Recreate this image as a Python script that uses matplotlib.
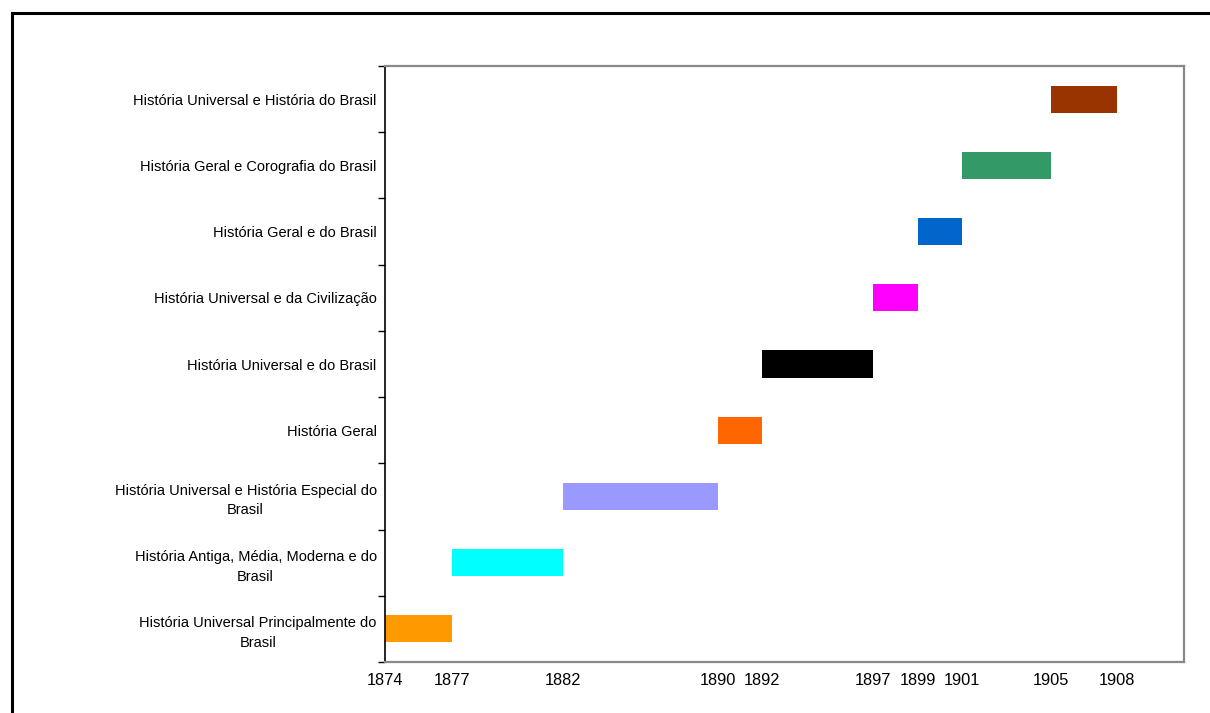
import matplotlib.pyplot as plt
from matplotlib.lines import Line2D

plt.rcParams['font.family'] = ['Liberation Sans', 'DejaVu Sans']

# Data: disciplines (bottom to top), start / end of each period
disciplinas = [
    "História Universal Principalmente do\nBrasil",
    "História Antiga, Média, Moderna e do\nBrasil",
    "História Universal e História Especial do\nBrasil",
    "História Geral",
    "História Universal e do Brasil",
    "História Universal e da Civilização",
    "História Geral e do Brasil",
    "História Geral e Corografia do Brasil",
    "História Universal e História do Brasil",
]
inicio = [1874, 1877, 1882, 1889, 1891, 1896, 1898, 1900, 1904]
fim = [1877, 1882, 1889, 1891, 1896, 1898, 1900, 1904, 1907]
cores = ["#FF9900", "#00FFFF", "#9999FF", "#FF6600", "#000000",
         "#FF00FF", "#0066CC", "#339966", "#993300"]

tick_pos = [1874, 1877, 1882, 1889, 1891, 1896, 1898, 1900, 1904, 1907]
tick_labels = ["1874", "1877", "1882", "1890", "1892", "1897", "1899",
               "1901", "1905", "1908"]

fig = plt.figure(figsize=(12.1, 7.13), dpi=100)
ax = fig.add_axes([385 / 1210, 1 - 662 / 713, (1184 - 385) / 1210, (662 - 66) / 713])

y = list(range(len(disciplinas)))
larguras = [f - i for i, f in zip(inicio, fim)]
ax.barh(y, larguras, left=inicio, height=0.41, color=cores)

ax.set_xlim(1874, 1910)
ax.set_ylim(-0.5, len(disciplinas) - 0.5)

ax.set_xticks(tick_pos)
ax.set_xticklabels(tick_labels, fontsize=11.8)
ax.tick_params(axis="x", length=0, pad=8)

ax.set_yticks(y)
ax.set_yticklabels(disciplinas, fontsize=10.5, ha="right", multialignment="center",
                   linespacing=1.5)
ax.tick_params(axis="y", which="major", length=0, pad=6)
ax.set_yticks([i - 0.5 for i in range(len(disciplinas) + 1)], minor=True)
ax.tick_params(axis="y", which="minor", length=5, width=1, direction="out", color="black")

ax.spines["left"].set_color("black")
ax.spines["left"].set_linewidth(1.2)
for s in ["top", "right", "bottom"]:
    ax.spines[s].set_color("#888888")
    ax.spines[s].set_linewidth(1.6)

# outer frame of the chart (cut at the right and bottom)
x0 = 12 / 1210
y0 = 1 - 13 / 713
fig.add_artist(Line2D([x0, x0], [0, y0], transform=fig.transFigure, color="black", lw=2.2))
fig.add_artist(Line2D([x0, 1], [y0, y0], transform=fig.transFigure, color="black", lw=2.2))

fig.savefig("out.png", dpi=100)
